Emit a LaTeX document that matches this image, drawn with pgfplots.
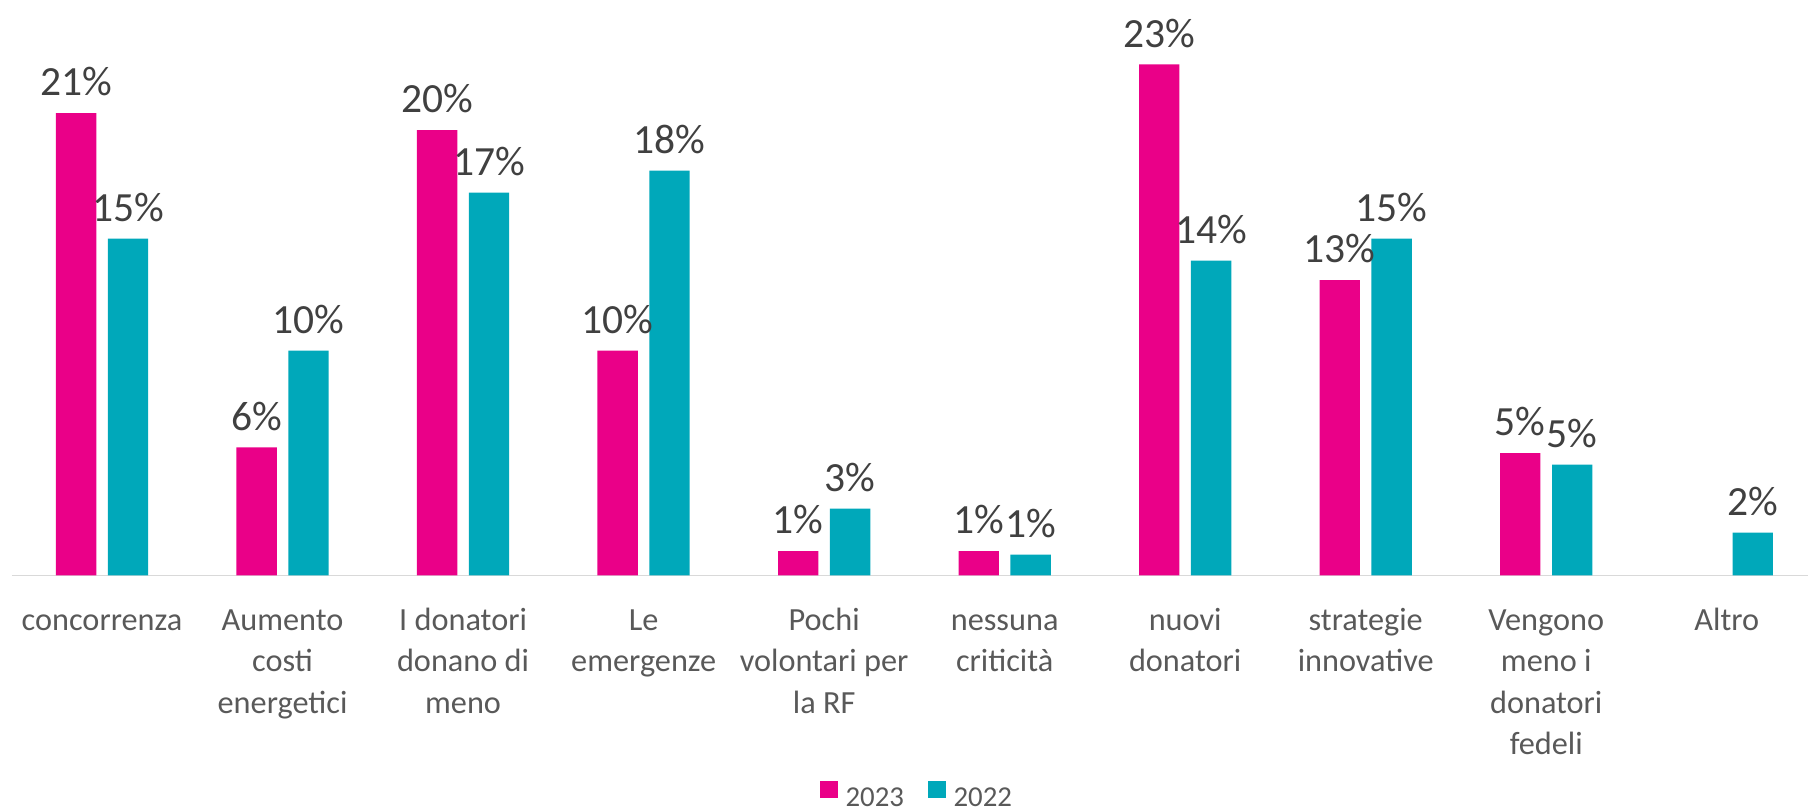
\documentclass[border=0pt]{standalone}
\usepackage{fontspec}
\setmainfont{Carlito}
\usepackage{pgfplots}
\pgfplotsset{compat=1.18}
\definecolor{cpink}{HTML}{EA0088}
\definecolor{cteal}{HTML}{00A8BA}
\definecolor{lbl}{HTML}{404040}
\definecolor{catc}{HTML}{595959}
\definecolor{axl}{HTML}{D9D9D9}
\begin{document}
\begin{tikzpicture}
\useasboundingbox (0,0) rectangle (784pt,351.5pt);
\begin{axis}[
  at={(5.1pt,102pt)}, anchor=south west,
  scale only axis, width=782.8pt, height=242.5pt,
  xmin=-0.5, xmax=9.5, ymin=0, ymax=25,
  axis x line*=bottom, axis y line=none,
  x axis line style={draw=axl, line width=0.75pt},
  xtick={0,...,9}, major tick length=0pt, ytick=\empty,
  xticklabels={{\strut concorrenza},{\strut Aumento\\costi\\energetici},{\strut I donatori\\donano di\\meno},{\strut Le\\emergenze},{\strut Pochi\\volontari per\\la RF},{\strut nessuna\\criticità},{\strut nuovi\\donatori},{\strut strategie\\innovative},{\strut Vengono\\meno i\\donatori\\fedeli},{\strut Altro}},
  xticklabel style={anchor=north, align=center, inner sep=0pt, yshift=-10.9pt, font=\fontsize{14}{18}\selectfont, text=catc},
  ybar=5pt, bar width=17.5pt,
  point meta=explicit symbolic,
  nodes near coords={\pgfplotspointmeta\%},
  every node near coord/.append style={font=\fontsize{18}{22}\selectfont, text=lbl, anchor=base, yshift=7.5pt, inner sep=0pt},
  every axis plot/.append style={legend image code/.code={\fill[##1] (0pt,0.3pt) rectangle (7.5pt,7.8pt);}},
  legend columns=2,
  legend style={draw=none, fill=none, inner sep=0pt, at={(0.5032,-0.393)}, anchor=center, font=\fontsize{12.5}{15}\selectfont, text=catc, nodes={inner xsep=3.5pt, inner ysep=0pt}, /tikz/every even column/.append style={column sep=7pt}},
]
\addplot[fill=cpink, draw=none] coordinates {
  (0,20.67) [21]
  (1,5.72) [6]
  (2,19.9) [20]
  (3,10.05) [10]
  (4,1.08) [1]
  (5,1.08) [1]
  (6,22.84) [23]
  (7,13.2) [13]
  (8,5.46) [5]
};
\addplot[fill=cteal, draw=none] coordinates {
  (0,15.05) [15]
  (1,10.05) [10]
  (2,17.11) [17]
  (3,18.09) [18]
  (4,2.99) [3]
  (5,0.93) [1]
  (6,14.07) [14]
  (7,15.05) [15]
  (8,4.95) [5]
  (9,1.91) [2]
};
\legend{2023,2022}
\end{axis}
\end{tikzpicture}
\end{document}
